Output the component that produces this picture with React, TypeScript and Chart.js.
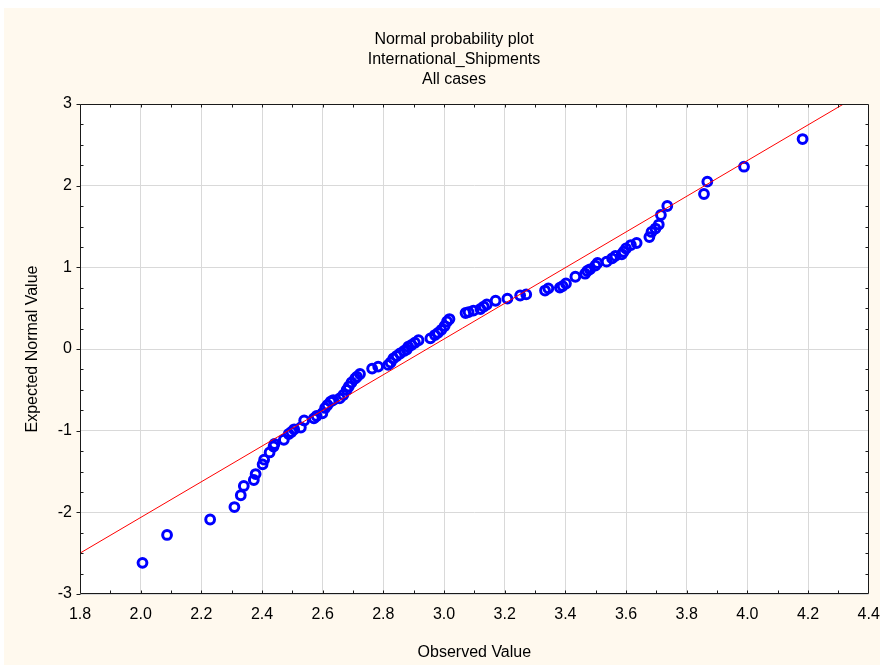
import React, { useEffect, useRef } from "react";
import { Chart, registerables } from "chart.js";

Chart.register(...registerables);

const titleLines = ["Normal probability plot", "International_Shipments", "All cases"];
const xAxisTitle = "Observed Value";
const yAxisTitle = "Expected Normal Value";

const xTickValues = [1.8, 2.0, 2.2, 2.4, 2.6, 2.8, 3.0, 3.2, 3.4, 3.6, 3.8, 4.0, 4.2, 4.4];
const yTickValues = [-3, -2, -1, 0, 1, 2, 3];

const observedValues = [
  2.006, 2.087, 2.229, 2.309, 2.33, 2.34, 2.373, 2.379, 2.402, 2.407,
  2.425, 2.438, 2.441, 2.472, 2.488, 2.497, 2.506, 2.528, 2.539, 2.571,
  2.58, 2.599, 2.608, 2.616, 2.626, 2.635, 2.656, 2.668, 2.679, 2.686,
  2.695, 2.707, 2.713, 2.723, 2.763, 2.783, 2.816, 2.824, 2.833, 2.844,
  2.855, 2.868, 2.877, 2.882, 2.893, 2.904, 2.916, 2.955, 2.97, 2.98,
  2.991, 3.002, 3.01, 3.018, 3.071, 3.081, 3.097, 3.12, 3.131, 3.141,
  3.17, 3.209, 3.251, 3.271, 3.333, 3.344, 3.382, 3.391, 3.402, 3.433,
  3.465, 3.472, 3.481, 3.499, 3.506, 3.536, 3.554, 3.565, 3.586, 3.592,
  3.6, 3.616, 3.635, 3.677, 3.684, 3.697, 3.708, 3.715, 3.736, 3.857,
  3.868, 3.989, 4.182,
];

const expectedValues = [
  -2.618, -2.277, -2.088, -1.935, -1.791, -1.677, -1.604, -1.531, -1.412, -1.355,
  -1.267, -1.194, -1.163, -1.111, -1.041, -1.016, -0.983, -0.961, -0.875, -0.849,
  -0.82, -0.787, -0.722, -0.686, -0.645, -0.625, -0.605, -0.563, -0.502, -0.459,
  -0.41, -0.361, -0.34, -0.306, -0.24, -0.215, -0.195, -0.165, -0.116, -0.086,
  -0.055, -0.024, -0.006, 0.028, 0.049, 0.077, 0.107, 0.131, 0.171, 0.198,
  0.235, 0.282, 0.337, 0.367, 0.441, 0.452, 0.471, 0.49, 0.52, 0.545,
  0.591, 0.616, 0.655, 0.668, 0.716, 0.743, 0.752, 0.77, 0.802, 0.885,
  0.922, 0.955, 0.976, 1.022, 1.053, 1.069, 1.11, 1.14, 1.16, 1.191,
  1.231, 1.273, 1.298, 1.371, 1.433, 1.475, 1.524, 1.641, 1.751, 1.898,
  2.049, 2.232, 2.571,
];

const fitLineX = [1.8, 4.4];
const fitLineY = [-2.5, 3.181];

const FONT = "Arial, 'Liberation Sans', sans-serif";

const backgroundPlugin = {
  id: "bgPlugin",
  beforeDraw(chart: any) {
    const { ctx, width, height, chartArea } = chart;
    ctx.save();
    ctx.fillStyle = "#FFF9EE";
    ctx.fillRect(0, 0, width, height);
    ctx.fillStyle = "#FFFFFF";
    ctx.fillRect(chartArea.left, chartArea.top, chartArea.right - chartArea.left, chartArea.bottom - chartArea.top);
    ctx.restore();
  },
};

const framePlugin = {
  id: "framePlugin",
  afterDatasetsDraw(chart: any) {
    const { ctx, chartArea, scales } = chart;
    const xs = scales.x;
    const ys = scales.y;
    const L = Math.round(chartArea.left) + 0.5;
    const R = Math.round(chartArea.right) - 0.5;
    const T = Math.round(chartArea.top) + 0.5;
    const B = Math.round(chartArea.bottom) - 0.5;
    ctx.save();
    ctx.strokeStyle = "#1a1a1a";
    ctx.lineWidth = 1;
    ctx.beginPath();
    ctx.moveTo(L, T);
    ctx.lineTo(R, T);
    ctx.lineTo(R, B);
    ctx.lineTo(L, B);
    ctx.closePath();
    ctx.stroke();
    ctx.beginPath();
    const xt = xs.ticks.map((t: any) => t.value);
    for (let i = 0; i < xt.length - 1; i++) {
      const px = Math.round(xs.getPixelForValue((xt[i] + xt[i + 1]) / 2)) + 0.5;
      ctx.moveTo(px, B);
      ctx.lineTo(px, B - 3);
      ctx.moveTo(px, T);
      ctx.lineTo(px, T + 3);
    }
    for (let i = 1; i < xt.length - 1; i++) {
      const px = Math.round(xs.getPixelForValue(xt[i])) + 0.5;
      ctx.moveTo(px, T);
      ctx.lineTo(px, T + 3);
      ctx.moveTo(px, B);
      ctx.lineTo(px, B - 3);
    }
    const yt = ys.ticks.map((t: any) => t.value);
    for (let i = 0; i < yt.length - 1; i++) {
      const step = (yt[i + 1] - yt[i]) / 4;
      for (let k = 1; k < 4; k++) {
        const py = Math.round(ys.getPixelForValue(yt[i] + step * k)) + 0.5;
        ctx.moveTo(L, py);
        ctx.lineTo(L + 3, py);
        ctx.moveTo(R, py);
        ctx.lineTo(R - 3, py);
      }
    }
    for (let i = 0; i < yt.length; i++) {
      const py = Math.round(ys.getPixelForValue(yt[i])) + 0.5;
      ctx.moveTo(L, py);
      ctx.lineTo(L - 4, py);
    }
    ctx.stroke();
    ctx.restore();
  },
};

export default function App() {
  const canvasRef = useRef<HTMLCanvasElement | null>(null);

  useEffect(() => {
    if (!canvasRef.current) return;
    const points = observedValues.map((v, i) => ({ x: v, y: expectedValues[i] }));
    const line = fitLineX.map((v, i) => ({ x: v, y: fitLineY[i] }));
    const chart = new Chart(canvasRef.current, {
      type: "scatter",
      data: {
        datasets: [
          {
            label: "fit",
            data: line,
            showLine: true,
            borderColor: "#FF0000",
            borderWidth: 1,
            pointRadius: 0,
            order: 0,
          },
          {
            label: "cases",
            data: points,
            pointStyle: "circle",
            pointRadius: 4.4,
            borderWidth: 3,
            borderColor: "#0000FF",
            backgroundColor: "rgba(0,0,0,0)",
            order: 1,
          },
        ],
      },
      options: {
        animation: false,
        responsive: false,
        events: [],
        layout: { padding: { left: 24, right: 0, top: 0, bottom: 0 } },
        plugins: {
          legend: { display: false },
          tooltip: { enabled: false },
          title: {
            display: true,
            text: titleLines,
            color: "#000",
            font: { family: FONT, size: 16, weight: "normal", lineHeight: 1.25 },
            padding: { top: 22, bottom: 14 },
          },
        },
        scales: {
          x: {
            type: "linear",
            min: 1.8,
            max: 4.4,
            afterBuildTicks: (s: any) => {
              s.ticks = xTickValues.map((v) => ({ value: v }));
            },
            afterFit: (s: any) => {
              s.height = 71;
              s.paddingRight = 11.3;
              s.paddingLeft = 0;
            },
            grid: { color: "#d9d9d9", drawTicks: false },
            border: { display: false },
            ticks: {
              color: "#000",
              padding: 11,
              maxRotation: 0,
              autoSkip: false,
              font: { family: FONT, size: 16 },
              callback: (v: any) => Number(v).toFixed(1),
            },
            title: {
              display: true,
              text: xAxisTitle,
              color: "#000",
              font: { family: FONT, size: 16 },
              padding: { top: 0, bottom: 3 },
            },
          },
          y: {
            type: "linear",
            min: -3,
            max: 3,
            afterBuildTicks: (s: any) => {
              s.ticks = yTickValues.map((v) => ({ value: v }));
            },
            afterFit: (s: any) => {
              s.width = 52;
            },
            grid: { color: "#d9d9d9", drawTicks: false },
            border: { display: false },
            ticks: {
              color: "#000",
              padding: 8,
              autoSkip: false,
              font: { family: FONT, size: 16 },
              callback: (v: any) => String(v),
            },
            title: {
              display: true,
              text: yAxisTitle,
              color: "#000",
              font: { family: FONT, size: 16 },
              padding: { top: -5, bottom: 0 },
            },
          },
        },
      },
      plugins: [backgroundPlugin, framePlugin],
    } as any);
    return () => chart.destroy();
  }, []);

  return (
    <div style={{ position: "absolute", left: 4, top: 8, width: 876, height: 657 }}>
      <canvas ref={canvasRef} width={876} height={657} style={{ display: "block" }} />
    </div>
  );
}
